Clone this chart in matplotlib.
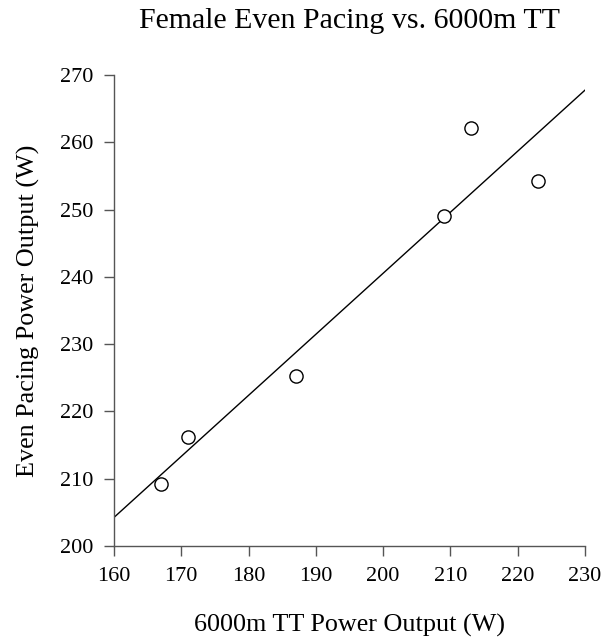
import numpy as np
import matplotlib
matplotlib.use("Agg")
import matplotlib.pyplot as plt

plt.rcParams['font.family'] = ['Liberation Serif', 'DejaVu Serif']

tt_power = [167, 171, 187, 209, 213, 223]
even_power = [209.2, 216.2, 225.2, 249.1, 262.1, 254.2]
x_ticks = [160, 170, 180, 190, 200, 210, 220, 230]
y_ticks = [200, 210, 220, 230, 240, 250, 260, 270]

W, H = 613, 640
fig = plt.figure(figsize=(W/100, H/100), dpi=100)
ax = fig.add_axes([114/W, 1-546/H, (585-114)/W, (546-75)/H])

slope, intercept = np.polyfit(tt_power, even_power, 1)
xl = np.array([160, 230])
ax.plot(xl, slope*xl + intercept, color='black', lw=1.0)
ax.plot(tt_power, even_power, 'o', mfc='white', mec='black', ms=9.5, mew=1.0)

ax.set_xlim(160, 230)
ax.set_ylim(200, 270)
ax.set_xticks(x_ticks)
ax.set_yticks(y_ticks)
for s in ['top', 'right']:
    ax.spines[s].set_visible(False)
for s in ['left', 'bottom']:
    ax.spines[s].set_color('#555555')
    ax.spines[s].set_linewidth(1.0)
ax.tick_params(direction='out', length=7, width=1.0, color='#555555', labelsize=16, pad=8)

fig.text(349.5/W, 1-28/H, 'Female Even Pacing vs. 6000m TT', fontsize=21.5,
         ha='center', va='baseline')
fig.text(349.5/W, 1-632/H, '6000m TT Power Output (W)', fontsize=18.8,
         ha='center', va='baseline')
fig.text(35/W, 1-310.5/H, 'Even Pacing Power Output (W)', fontsize=18.8,
         ha='center', va='baseline', rotation=90, rotation_mode='anchor')

fig.savefig('out.png', dpi=100)
